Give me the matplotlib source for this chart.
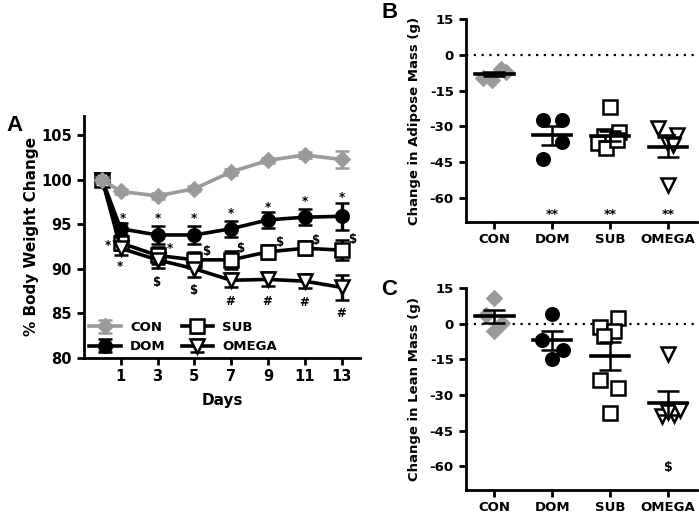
import numpy as np
import matplotlib
matplotlib.use("Agg")
import matplotlib.pyplot as plt

plt.rcParams['font.family'] = ['DejaVu Sans']
plt.rcParams['font.weight'] = 'bold'
plt.rcParams['axes.unicode_minus'] = False

# ---------------- Panel A data ----------------
days = [0, 1, 3, 5, 7, 9, 11, 13]
groups = ["CON", "DOM", "SUB", "OMEGA"]
con_mean = [100, 98.7, 98.2, 99.0, 100.9, 102.2, 102.8, 102.3]
con_err = [0.3, 0.3, 0.3, 0.3, 0.3, 0.3, 0.3, 1.0]
dom_mean = [100, 94.5, 93.8, 93.8, 94.5, 95.5, 95.8, 95.9]
dom_err = [0.3, 0.7, 1.0, 1.0, 0.9, 0.9, 0.9, 1.5]
sub_mean = [100, 92.9, 91.5, 91.0, 91.0, 91.9, 92.3, 92.1]
sub_err = [0.3, 0.8, 1.0, 0.9, 1.0, 0.8, 0.8, 1.1]
omega_mean = [100, 92.3, 91.0, 90.0, 88.7, 88.8, 88.6, 87.9]
omega_err = [0.3, 0.7, 0.9, 0.9, 0.8, 0.8, 0.8, 1.4]

# significance marks: (symbol, day, y)
a_marks = [
    ("*", 1.1, 95.6), ("*", 3, 95.6), ("*", 5, 95.6), ("*", 7, 96.2),
    ("*", 9, 96.9), ("*", 11, 97.6), ("*", 13, 98.0),
    ("*", 0.3, 92.6), ("*", 0.95, 90.3), ("*", 3.65, 92.3),
    ("$", 2.95, 88.5), ("$", 4.95, 87.6),
    ("$", 5.65, 91.9), ("$", 7.5, 92.3), ("$", 9.6, 92.9), ("$", 11.55, 93.2), ("$", 13.55, 93.3),
    ("#", 6.95, 86.3), ("#", 8.95, 86.3), ("#", 10.95, 86.2), ("#", 12.95, 85.0),
]

# ---------------- Panel B data (adipose) ----------------
b_con = [-9.5, -10.5, -6.0, -7.0]
b_dom = [-27.4, -27.4, -36.4, -43.8]
b_sub = [-22.0, -34.0, -36.8, -39.2, -32.3, -35.5]
b_omega = [-30.8, -33.6, -36.4, -37.8, -54.5]
b_mean = [-8.0, -33.6, -34.0, -38.6]
b_sem = [0.9, 4.0, 2.0, 4.3]
b_marks = [("**", 1, -67), ("**", 2, -67), ("**", 3, -67)]

# ---------------- Panel C data (lean) ----------------
c_con = [10.8, 3.9, 0.4, -3.0]
c_dom = [4.2, -6.8, -11.1, -14.9]
c_sub = [-1.4, 2.5, -2.8, -5.1, -23.6, -26.9, -37.5]
c_omega = [-12.8, -39.0, -38.5, -37.0, -36.5]
c_mean = [3.2, -6.8, -13.5, -33.3]
c_sem = [2.8, 4.0, 5.8, 5.0]
c_marks = [("$", 3, -60.5)]

# horizontal jitter offsets (layout only)
b_off = [[-0.2, -0.05, 0.12, 0.2], [-0.16, 0.16, 0.16, -0.16],
         [0.0, -0.1, -0.21, -0.07, 0.15, 0.12], [-0.17, 0.15, -0.02, 0.08, 0.0]]
c_off = [[0.0, -0.15, 0.13, 0.0], [0.0, -0.17, 0.18, 0.0],
         [-0.18, 0.14, 0.07, -0.1, -0.18, 0.14, 0.0], [0.0, -0.11, 0.11, 0.0, 0.2]]

GRAY = "#9a9a9a"
styles = {
    "CON": dict(marker="D", mfc=GRAY, mec=GRAY, color=GRAY),
    "DOM": dict(marker="o", mfc="black", mec="black", color="black"),
    "SUB": dict(marker="s", mfc="white", mec="black", color="black"),
    "OMEGA": dict(marker="v", mfc="white", mec="black", color="black"),
}
MS_A = {"CON": 7.5, "DOM": 9.0, "SUB": 10.0, "OMEGA": 10.0}
MS_B = {"CON": 7.0, "DOM": 9.0, "SUB": 9.5, "OMEGA": 9.5}

fig = plt.figure(figsize=(6.99, 5.13), dpi=100)

# ---------- Panel A ----------
axA = fig.add_axes([0.120, 0.303, 0.395, 0.471])
series = [(con_mean, con_err), (dom_mean, dom_err), (sub_mean, sub_err), (omega_mean, omega_err)]
order = [1, 2, 3, 0]
handles = {}
for gi in order:
    g = groups[gi]
    m, e = series[gi]
    st = styles[g]
    h = axA.errorbar(days, m, yerr=e, color=st["color"], lw=2.6, marker=st["marker"],
                     ms=MS_A[g], mfc=st["mfc"], mec=st["mec"], mew=1.8,
                     elinewidth=2.4, capsize=5, capthick=2.4,
                     zorder=5 if g == "CON" else 3, label=g)
    handles[g] = h
for sym, x, y in a_marks:
    axA.text(x, y, sym, ha="center", va="center", fontsize=8.5, fontweight="bold")
axA.set_xlim(-1, 14)
axA.set_ylim(80, 107.2)
axA.set_xticks([1, 3, 5, 7, 9, 11, 13])
axA.set_yticks([80, 85, 90, 95, 100, 105])
axA.spines["top"].set_visible(False)
axA.spines["right"].set_visible(False)
for s in ["left", "bottom"]:
    axA.spines[s].set_linewidth(2)
axA.tick_params(width=2, length=5, labelsize=10.5)
for lab in axA.get_xticklabels() + axA.get_yticklabels():
    lab.set_fontweight("bold")
axA.set_xlabel("Days", fontsize=11, fontweight="bold", labelpad=6)
axA.set_ylabel("% Body Weight Change", fontsize=11, fontweight="bold", labelpad=2)
axA.legend([handles[g] for g in groups], groups, ncol=2, loc="lower left",
           bbox_to_anchor=(0.0, -0.005),
           frameon=False, handlelength=2.4, columnspacing=1.2,
           labelspacing=0.5, borderaxespad=0.0, handletextpad=0.7,
           prop=dict(weight="bold", size=9.5))

# ---------- Panels B and C ----------
def dot_panel(ax, data, offs, means, sems, marks, ylabel):
    ax.axhline(0, color="black", lw=1.6, ls=(0, (1, 2.5)), zorder=1)
    for i, g in enumerate(groups):
        st = styles[g]
        xs = [i + o for o in offs[i]]
        ax.plot(xs, data[i], ls="none", marker=st["marker"],
                ms=MS_B[g], mfc=st["mfc"], mec=st["mec"], mew=1.8, zorder=3)
        ax.plot([i - 0.33, i + 0.33], [means[i], means[i]], color="black", lw=2.6, zorder=4)
        ax.errorbar([i], [means[i]], yerr=[sems[i]], fmt="none", ecolor="black",
                    elinewidth=1.8, capsize=8, capthick=1.8, zorder=4)
    for sym, x, y in marks:
        ax.text(x, y, sym, ha="center", va="center", fontsize=9, fontweight="bold")
    ax.set_xlim(-0.5, 3.5)
    ax.set_ylim(-70, 15)
    ax.set_xticks(range(4))
    ax.set_xticklabels(groups)
    ax.set_yticks([15, 0, -15, -30, -45, -60])
    ax.spines["top"].set_visible(False)
    ax.spines["right"].set_visible(False)
    for s in ["left", "bottom"]:
        ax.spines[s].set_linewidth(2)
    ax.tick_params(width=2, length=5, labelsize=9.5)
    ax.tick_params(axis="x", pad=3)
    for lab in ax.get_xticklabels() + ax.get_yticklabels():
        lab.set_fontweight("bold")
    ax.set_ylabel(ylabel, fontsize=9.5, fontweight="bold", labelpad=6)

axB = fig.add_axes([0.666, 0.568, 0.331, 0.394])
dot_panel(axB, [b_con, b_dom, b_sub, b_omega], b_off, b_mean, b_sem, b_marks,
          "Change in Adipose Mass (g)")
axC = fig.add_axes([0.666, 0.045, 0.331, 0.393])
dot_panel(axC, [c_con, c_dom, c_sub, c_omega], c_off, c_mean, c_sem, c_marks,
          "Change in Lean Mass (g)")

fig.text(0.021, 0.756, "A", fontsize=16, fontweight="bold", ha="center", va="center",
         family="Liberation Sans")
fig.text(0.557, 0.975, "B", fontsize=16, fontweight="bold", ha="center", va="center",
         family="Liberation Sans")
fig.text(0.557, 0.436, "C", fontsize=16, fontweight="bold", ha="center", va="center",
         family="Liberation Sans")

fig.savefig("out.png", dpi=100)
